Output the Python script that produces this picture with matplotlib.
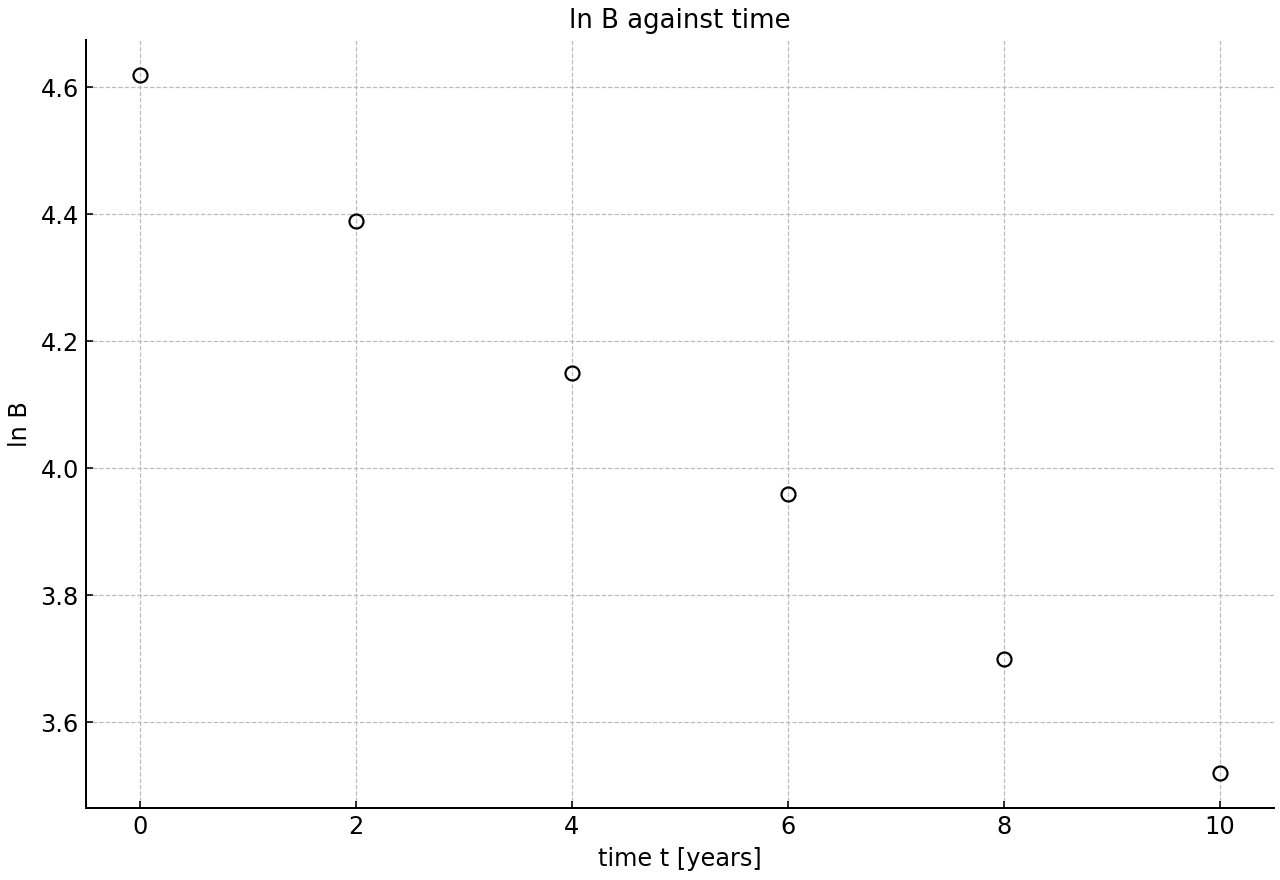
import matplotlib
matplotlib.use('Agg')
import matplotlib.pyplot as plt

t_years = [0, 2, 4, 6, 8, 10]
ln_B = [4.62, 4.39, 4.15, 3.96, 3.70, 3.52]

plt.rcParams['font.size'] = 12
fig, ax = plt.subplots(figsize=(1280 / 144, 880 / 144), dpi=144)
ax.plot(t_years, ln_B, 'o', mfc='none', mec='black', ms=7, mew=1.1)
ax.set_xlabel("time t [years]")
ax.set_ylabel("ln B")
ax.set_title("ln B against time", fontsize=13)
ax.grid(True, linestyle='--', color='#bbbbbb', linewidth=0.6)
ax.tick_params(direction='in')
for s in ['top', 'right']:
    ax.spines[s].set_visible(False)
for s in ['left', 'bottom']:
    ax.spines[s].set_linewidth(1.0)
fig.subplots_adjust(left=0.067, right=0.995, bottom=0.082, top=0.955)
fig.savefig("out.png", dpi=144)
